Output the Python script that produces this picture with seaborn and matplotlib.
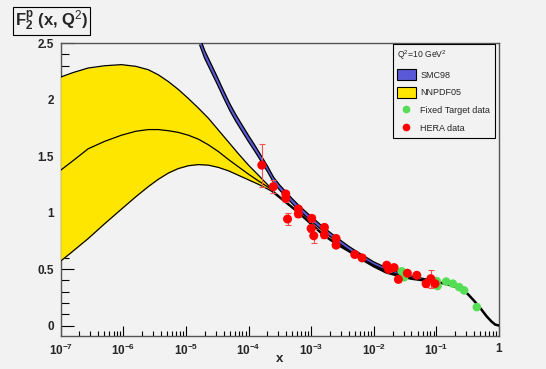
import numpy as np
import pandas as pd
import seaborn as sns
import matplotlib.pyplot as plt
from matplotlib.patches import Patch
from matplotlib.lines import Line2D
from matplotlib.ticker import FixedLocator, FixedFormatter, NullFormatter

# NNPDF05 band at small x (log10 x, lower / centre / upper)
nn_logx = [-7.0, -6.8, -6.56, -6.3, -6.03, -5.8, -5.6, -5.44, -5.28, -5.12, -4.96,
           -4.8, -4.64, -4.48, -4.32, -4.16, -4.0, -3.84, -3.7, -3.6]
nn_lo = [0.57, 0.66, 0.77, 0.90, 1.03, 1.14, 1.23, 1.295, 1.35, 1.39, 1.415,
         1.425, 1.42, 1.40, 1.37, 1.33, 1.29, 1.25, 1.21, 1.18]
nn_mid = [1.375, 1.46, 1.565, 1.63, 1.685, 1.72, 1.735, 1.735, 1.725, 1.71, 1.685,
          1.65, 1.60, 1.54, 1.47, 1.405, 1.34, 1.28, 1.23, 1.19]
nn_hi = [2.20, 2.24, 2.28, 2.30, 2.31, 2.295, 2.265, 2.22, 2.16, 2.09, 2.01,
         1.925, 1.835, 1.73, 1.625, 1.52, 1.42, 1.33, 1.25, 1.19]

# NNPDF05 curve beyond the band
nn2_logx = [-3.6, -3.4, -3.2, -3.0, -2.8, -2.6, -2.4, -2.2, -2.0, -1.8, -1.6, -1.4,
            -1.2, -1.0, -0.85, -0.7, -0.6, -0.5, -0.4, -0.3, -0.2, -0.12, -0.06, 0.0]
nn2_y = [1.18, 1.09, 1.0, 0.90, 0.80, 0.725, 0.66, 0.59, 0.525, 0.47, 0.44, 0.415,
         0.40, 0.385, 0.37, 0.345, 0.315, 0.28, 0.22, 0.155, 0.083, 0.035, 0.008, 0.0]

# SMC98 band (centre and half width)
smc_logx = [-4.78, -4.7, -4.6, -4.5, -4.4, -4.3, -4.2, -4.1, -4.0, -3.9, -3.8, -3.7,
            -3.6, -3.5, -3.4, -3.3, -3.2, -3.0, -2.8, -2.6, -2.4, -2.2, -2.0, -1.8,
            -1.6, -1.4, -1.2, -1.0]
smc_mid = [2.52, 2.40, 2.285, 2.17, 2.05, 1.935, 1.835, 1.745, 1.655, 1.57, 1.48, 1.39,
           1.29, 1.22, 1.16, 1.10, 1.045, 0.945, 0.85, 0.765, 0.685, 0.615, 0.55, 0.50,
           0.46, 0.43, 0.41, 0.393]
smc_err = [0.036, 0.035, 0.034, 0.033, 0.032, 0.031, 0.030, 0.029, 0.028, 0.027, 0.026,
           0.025, 0.024, 0.023, 0.022, 0.022, 0.021, 0.02, 0.019, 0.018, 0.017, 0.016,
           0.014, 0.012, 0.01, 0.008, 0.006, 0.004]

# HERA data
hera_x = [1.63e-4, 2.49e-4, 3.93e-4, 3.93e-4, 4.2e-4, 6.25e-4, 6.25e-4, 1.02e-3, 1.0e-3,
          1.1e-3, 1.63e-3, 1.63e-3, 2.5e-3, 2.5e-3, 4.97e-3, 6.5e-3, 0.0161, 0.0211,
          0.0172, 0.0247, 0.0344, 0.0486, 0.0814, 0.0684, 0.095]
hera_y = [1.42, 1.23, 1.165, 1.127, 0.943, 1.032, 0.988, 0.949, 0.86, 0.795, 0.869,
          0.803, 0.771, 0.712, 0.629, 0.599, 0.534, 0.513, 0.498, 0.409, 0.463, 0.445,
          0.415, 0.371, 0.371]
hera_err = [0.19, 0.06, 0.03, 0.03, 0.05, 0.03, 0.03, 0.03, 0.03, 0.06, 0.03,
            0.03, 0.02, 0.02, 0.02, 0.02, 0.02, 0.02, 0.02, 0.02, 0.02, 0.02,
            0.08, 0.03, 0.03]

# Fixed target data
fixed_x = [0.028, 0.0305, 0.101, 0.104, 0.143, 0.183, 0.231, 0.277, 0.442]
fixed_y = [0.48, 0.427, 0.394, 0.35, 0.389, 0.371, 0.34, 0.311, 0.163]

xtick_vals = [1e-7, 1e-6, 1e-5, 1e-4, 1e-3, 1e-2, 1e-1, 1]
xtick_labels = [r'$\mathbf{10^{-7}}$', r'$\mathbf{10^{-6}}$', r'$\mathbf{10^{-5}}$',
                r'$\mathbf{10^{-4}}$', r'$\mathbf{10^{-3}}$', r'$\mathbf{10^{-2}}$',
                r'$\mathbf{10^{-1}}$', '1']
ytick_vals = [0, 0.5, 1, 1.5, 2, 2.5]
ytick_labels = ['0', '0.5', '1', '1.5', '2', '2.5']

bg = '#f2f2f2'
blue = '#5a5ad8'
yellow = '#ffe600'
sns.set_theme(style='ticks')
plt.rcParams['font.family'] = ['Liberation Sans', 'DejaVu Sans']
plt.rcParams['mathtext.fontset'] = 'custom'
plt.rcParams['mathtext.rm'] = 'Liberation Sans'
plt.rcParams['mathtext.bf'] = 'Liberation Sans:bold'
plt.rcParams['mathtext.it'] = 'Liberation Sans:italic'

fig = plt.figure(figsize=(5.46, 3.69), dpi=100, facecolor=bg)
ax = fig.add_axes([0.111, 0.089, 0.803, 0.794], facecolor=bg)

nn = pd.DataFrame({'x': 10.0 ** np.array(nn_logx), 'lo': nn_lo, 'mid': nn_mid, 'hi': nn_hi})
nn2 = pd.DataFrame({'x': 10.0 ** np.array(nn2_logx), 'y': nn2_y})
smc = pd.DataFrame({'x': 10.0 ** np.array(smc_logx), 'mid': smc_mid, 'err': smc_err})
smc['lo'] = smc['mid'] - smc['err']
smc['hi'] = smc['mid'] + smc['err']

# NNPDF05 yellow band (drawn over the left axis ticks, as in the original)
ax.fill_between(nn['x'], nn['lo'], nn['hi'], color=yellow, lw=0, zorder=3)
for col in ['lo', 'mid', 'hi']:
    sns.lineplot(data=nn, x='x', y=col, ax=ax, color='black', lw=0.9, zorder=3.2,
                 estimator=None, sort=False)
sns.lineplot(data=nn2, x='x', y='y', ax=ax, color='black', lw=1.8, zorder=3.2,
             estimator=None, sort=False)

# SMC98 blue band
ax.fill_between(smc['x'], smc['lo'], smc['hi'], color=blue, lw=0, zorder=3.4)
for col in ['lo', 'hi']:
    sns.lineplot(data=smc, x='x', y=col, ax=ax, color='black', lw=0.9, zorder=3.5,
                 estimator=None, sort=False)

# data points
ax.errorbar(hera_x, hera_y, yerr=hera_err, fmt='none', ecolor='#ff5050',
            elinewidth=0.8, capsize=2, capthick=0.8, zorder=5)
sns.scatterplot(x=fixed_x, y=fixed_y, ax=ax, color='#55dd55', s=38, edgecolor='none', zorder=6)
sns.scatterplot(x=hera_x, y=hera_y, ax=ax, color='#ff0000', s=42, edgecolor='none', zorder=7)

ax.set_xscale('log')
ax.set_xlim(1e-7, 1)
ax.set_ylim(-0.094, 2.5)
ax.xaxis.set_major_locator(FixedLocator(xtick_vals))
ax.xaxis.set_major_formatter(FixedFormatter(xtick_labels))
ax.xaxis.set_minor_formatter(NullFormatter())
ax.set_yticks(ytick_vals)
ax.set_yticklabels(ytick_labels)
ax.yaxis.set_minor_locator(FixedLocator(np.arange(0.1, 2.45, 0.1)))
ax.tick_params(axis='x', which='major', direction='in', length=7, width=0.8,
               labelsize=8.5, pad=5, color='black')
ax.tick_params(axis='x', which='minor', direction='in', length=3.5, width=0.8, color='black')
ax.tick_params(axis='y', which='major', direction='in', length=9.5, width=0.8,
               labelsize=8.5, pad=5, color='black')
ax.tick_params(axis='y', which='minor', direction='in', length=6, width=0.8, color='black')
for lab in ax.get_yticklabels() + ax.get_xticklabels():
    lab.set_fontweight('bold')
for s in ax.spines.values():
    s.set_linewidth(1.0)
    s.set_color('#555555')
ax.set_xlabel('x', fontweight='bold', fontsize=9.5)
ax.xaxis.set_label_coords(0.5, -0.058)
ax.set_ylabel('')

handles = [Patch(facecolor=blue, edgecolor='black', lw=0.8),
           Patch(facecolor=yellow, edgecolor='black', lw=0.8),
           Line2D([], [], ls='none', marker='o', color='#55dd55', markersize=4.5),
           Line2D([], [], ls='none', marker='o', color='#ff0000', markersize=4.5)]
labels = ['SMC98', 'NNPDF05', 'Fixed Target data', 'HERA data']
leg = ax.legend(handles, labels, title=r'Q$^2$=10 GeV$^2$', loc='upper left',
                bbox_to_anchor=(0.757, 0.997), fontsize=6.5, title_fontsize=6.2,
                frameon=True, fancybox=False, framealpha=1, facecolor=bg,
                edgecolor='black', handlelength=2.1, handleheight=1.5,
                handletextpad=0.5, borderpad=0.5, labelspacing=0.75,
                borderaxespad=0, alignment='left')
leg.get_frame().set_linewidth(0.8)
leg.set_zorder(10)

fig.text(0.027, 0.943, r'$\mathbf{F_2^p}$ (x, Q$^2$)', fontsize=12, fontweight='bold',
         ha='left', va='center',
         bbox=dict(boxstyle='square,pad=0.12', facecolor=bg, edgecolor='black', lw=0.8))

fig.savefig('out.png', dpi=100, facecolor=bg)
